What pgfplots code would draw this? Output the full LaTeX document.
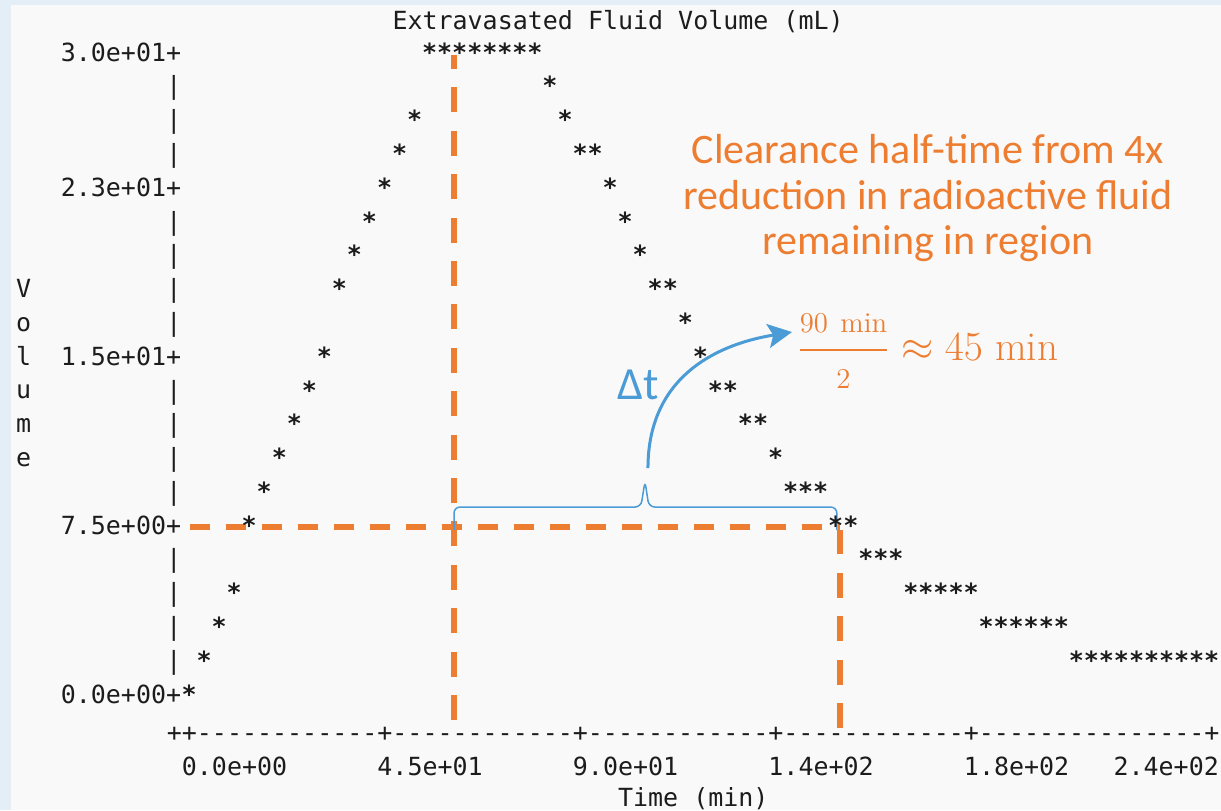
\documentclass[border=0pt]{standalone}
\usepackage{fontspec}
\usepackage{amsmath}
\usepackage{pgfplots}
\pgfplotsset{compat=1.18}
\usetikzlibrary{arrows.meta}
\newfontfamily\monofam{DejaVu Sans Mono}
\newfontfamily\calib{Carlito}
\newcommand\asc{\monofam\fontsize{12.49pt}{16.895pt}\selectfont}
\newcommand\ascb{\monofam\bfseries\fontsize{12.49pt}{16.895pt}\selectfont}
\definecolor{bgblue}{HTML}{E3EEF7}
\definecolor{panel}{HTML}{F9F9F9}
\definecolor{ppOrange}{HTML}{ED7D31}
\definecolor{ppBlue}{HTML}{4A9BD6}
\definecolor{ink}{HTML}{1C1C1C}
\def\D{\mbox{-}}
\def\Dtw{\D\D\D\D\D\D\D\D\D\D\D\D}
\pgfplotstableread{
t v
0 0
3.462 1.5
6.923 3
10.385 4.5
13.846 7.5
17.308 9
20.769 10.5
24.231 12
27.692 13.5
31.154 15
34.615 18
38.077 19.5
41.538 21
45.000 22.5
48.462 24
51.923 25.5
55.385 28.5
58.846 28.5
62.308 28.5
65.769 28.5
69.231 28.5
72.692 28.5
76.154 28.5
79.615 28.5
83.077 27
86.538 25.5
90.000 24
93.462 24
96.923 22.5
100.385 21
103.846 19.5
107.308 18
110.769 18
114.231 16.5
117.692 15
121.154 13.5
124.615 13.5
128.077 12
131.538 12
135.000 10.5
138.462 9
141.923 9
145.385 9
148.846 7.5
152.308 7.5
155.769 6
159.231 6
162.692 6
166.154 4.5
169.615 4.5
173.077 4.5
176.538 4.5
180.000 4.5
183.462 3
186.923 3
190.385 3
193.846 3
197.308 3
200.769 3
204.231 1.5
207.692 1.5
211.154 1.5
214.615 1.5
218.077 1.5
221.538 1.5
225.000 1.5
228.462 1.5
231.923 1.5
235.385 1.5
}\volume
\begin{document}
\begin{tikzpicture}
\fill[bgblue] (0,0) rectangle (610.5pt,405pt);
\fill[panel] (5.5pt,0) rectangle (610.5pt,402.5pt);
\begin{axis}[
  x=2.17233pt, y=11.263pt,
  xmin=-1.7215, xmax=237.2, ymin=-3.595, ymax=29.6,
  anchor=south west, at={(90.78pt,17.5pt)},
  clip=false,
  axis line style={draw=none},
  tick style={draw=none},
  xtick={0,45,90,135,180},
  xticklabels={0.0e+00,4.5e+01,9.0e+01,1.4e+02,1.8e+02},
  extra x ticks={235.385},
  extra x tick labels={2.4e+02},
  extra x tick style={xticklabel style={anchor=base east, xshift=7.52pt}},
  xticklabel style={font=\asc, text=ink, anchor=base west, inner sep=0pt, xshift=-3.76pt},
  ytick={0,7.5,15,22.5,28.5},
  yticklabels={0.0e+00+,7.5e+00+,1.5e+01+,2.3e+01+,3.0e+01+},
  yticklabel style={font=\asc, text=ink, anchor=base east, inner sep=0pt, yshift=-4.55pt},
  title={Extravasated Fluid Volume (mL)},
  title style={font=\asc, text=ink, at={(axis cs:46.74,29.52)}, anchor=base west, inner sep=0pt, yshift=-6pt},
  xlabel={Time (min)},
  xlabel style={font=\asc, text=ink, at={(axis cs:98.66,-4.971)}, anchor=base west, inner sep=0pt},
  ylabel={V\\o\\l\\u\\m\\e},
  ylabel style={rotate=-90, align=center, font=\asc, text=ink, at={(axis cs:-38.08,14.25)}, anchor=center, inner sep=0pt},
]
% orange guide lines
\addplot[ppOrange, no marks, line width=3pt, dash pattern=on 12.5pt off 9.2pt] coordinates {(61.0,-1.154) (61.0,28.36)};
\addplot[ppOrange, no marks, line width=3pt, dash pattern=on 12.5pt off 9.2pt] coordinates {(149.8,-1.509) (149.8,7.28)};
\addplot[ppOrange, no marks, line width=3pt, dash pattern=on 10pt off 8pt] coordinates {(0.22,7.41) (149.8,7.41)};
% brace
\draw[ppBlue, line width=0.75pt, rounded corners=3pt]
  (axis cs:60.99,7.28) -- (axis cs:60.99,8.30) -- (axis cs:104.0,8.30) -- (axis cs:104.94,9.45)
  -- (axis cs:105.86,8.30) -- (axis cs:149.1,8.30) -- (axis cs:149.1,7.28);
% arrow
\draw[ppBlue, line width=1.5pt, -{Stealth[length=12pt,width=12pt,inset=2.5pt]}]
  (axis cs:105.63,10.03) .. controls (axis cs:105.63,13.94) and (axis cs:120.36,15.49) .. (axis cs:138.78,16.07);
\node[text=ppBlue, font=\calib\fontsize{23pt}{26pt}\selectfont, inner sep=0pt] at (axis cs:103.3,13.71) {Δt};
% orange annotation
\node[anchor=base, inner sep=0pt, text=ppOrange, font=\calib\fontsize{21pt}{23pt}\selectfont] at (axis cs:170.07,23.57) {Clearance half-time from 4x};
\node[anchor=base, inner sep=0pt, text=ppOrange, font=\calib\fontsize{21pt}{23pt}\selectfont] at (axis cs:170.07,21.53) {reduction in radioactive fluid};
\node[anchor=base, inner sep=0pt, text=ppOrange, font=\calib\fontsize{21pt}{23pt}\selectfont] at (axis cs:170.07,19.49) {remaining in region};
\node[anchor=base west, inner sep=0pt, text=ppOrange, font=\fontsize{20.5pt}{24pt}\selectfont] at (axis cs:139.92,14.82) {$\dfrac{\scriptstyle 90\ \mathrm{min}}{\scriptstyle 2}\approx 45\ \mathrm{min}$};
% data stars
\addplot[ink, only marks, mark=text, text mark={*}, text mark as node=true,
  text mark style={font=\ascb, anchor=base, inner sep=0pt, yshift=-4.55pt}] table[x=t, y=v] {\volume};
% ASCII y axis bars
\addplot[ink, only marks, mark=text, text mark={|}, text mark as node=true,
  text mark style={font=\asc, anchor=base, inner sep=0pt, yshift=-4.55pt}] coordinates {
  (-3.4615,27) (-3.4615,25.5) (-3.4615,24) (-3.4615,21) (-3.4615,19.5) (-3.4615,18) (-3.4615,16.5)
  (-3.4615,13.5) (-3.4615,12) (-3.4615,10.5) (-3.4615,9) (-3.4615,6) (-3.4615,4.5) (-3.4615,3) (-3.4615,1.5)};
% ASCII x axis line
\node[anchor=base west, inner sep=0pt, font=\asc, text=ink] at (axis cs:-5.192,-2.086) {++\Dtw+\Dtw+\Dtw+\Dtw+\Dtw\D\D\D+};
\end{axis}
\pgfresetboundingbox
\path[use as bounding box] (0,0) rectangle (610.5pt,405pt);
\end{tikzpicture}
\end{document}
